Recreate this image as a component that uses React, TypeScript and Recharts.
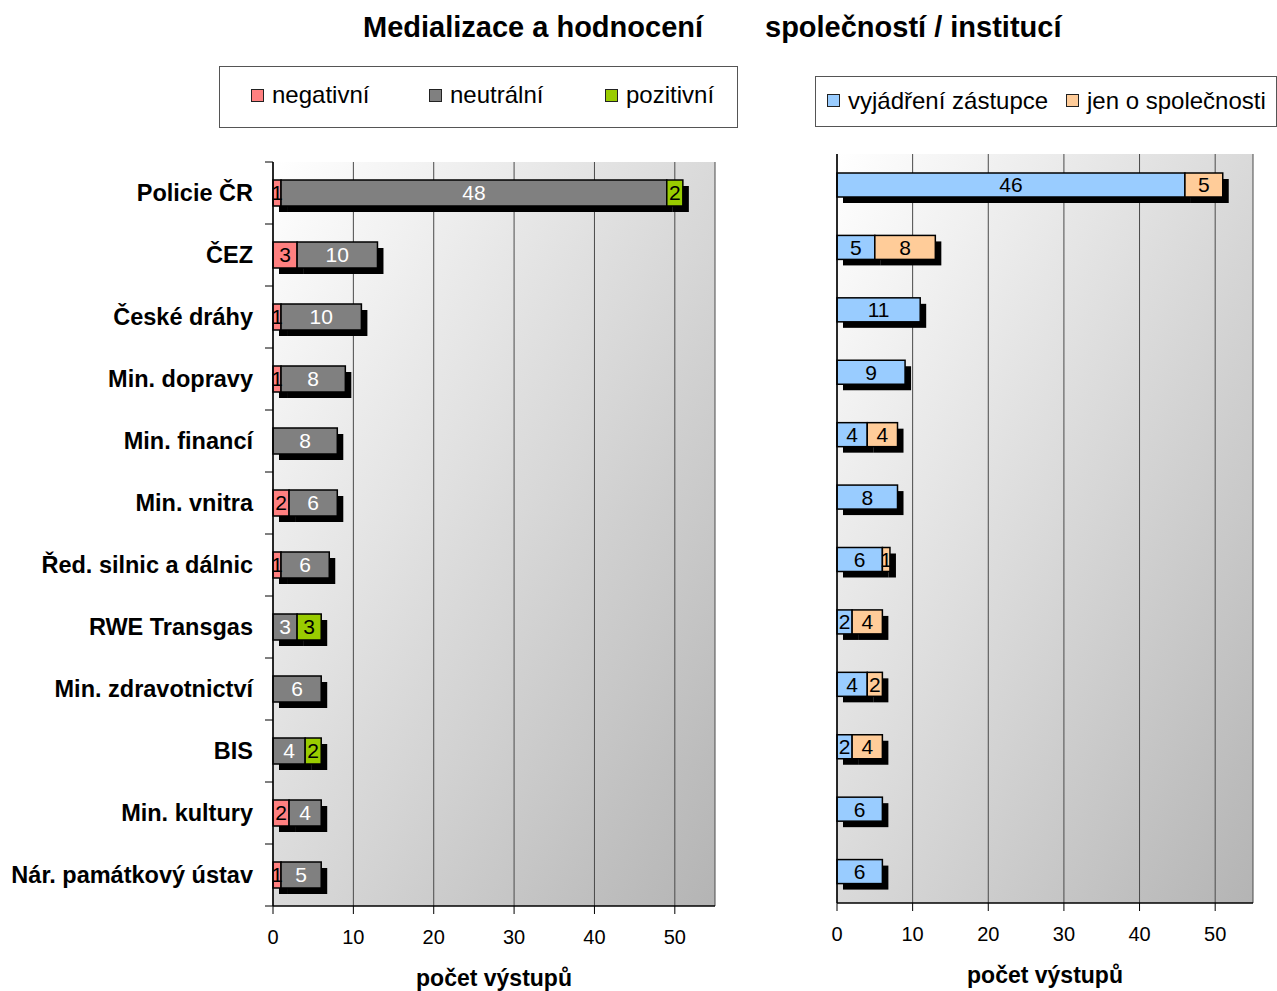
import React from "react";
import { Bar, BarChart, CartesianGrid, LabelList, XAxis, YAxis } from "recharts";

const categories = [
  "Policie ČR",
  "ČEZ",
  "České dráhy",
  "Min. dopravy",
  "Min. financí",
  "Min. vnitra",
  "Řed. silnic a dálnic",
  "RWE Transgas",
  "Min. zdravotnictví",
  "BIS",
  "Min. kultury",
  "Nár. památkový ústav",
];
const negativni = [1, 3, 1, 1, 0, 2, 1, 0, 0, 0, 2, 1];
const neutralni = [48, 10, 10, 8, 8, 6, 6, 3, 6, 4, 4, 5];
const pozitivni = [2, 0, 0, 0, 0, 0, 0, 3, 0, 2, 0, 0];
const vyjadreniZastupce = [46, 5, 11, 9, 4, 8, 6, 2, 4, 2, 6, 6];
const jenOSpolecnosti = [5, 8, 0, 0, 4, 0, 1, 4, 2, 4, 0, 0];
const xTicks = [0, 10, 20, 30, 40, 50];

const FONT = "Arial, 'Liberation Sans', sans-serif";

const leftSeries = [
  { key: "negativni", name: "negativní", color: "#FF8080", text: "#000" },
  { key: "neutralni", name: "neutrální", color: "#808080", text: "#fff" },
  { key: "pozitivni", name: "pozitivní", color: "#99CC00", text: "#000" },
];
const rightSeries = [
  { key: "vyjadreni", name: "vyjádření zástupce", color: "#99CCFF", text: "#000" },
  { key: "jenO", name: "jen o společnosti", color: "#FFCC99", text: "#000" },
];

const leftData = categories.map((name, i) => ({
  name,
  negativni: negativni[i],
  neutralni: neutralni[i],
  pozitivni: pozitivni[i],
}));
const rightData = categories.map((name, i) => ({
  name,
  vyjadreni: vyjadreniZastupce[i],
  jenO: jenOSpolecnosti[i],
}));

// bar segment with a black drop shadow behind it
const ShadowBar = (props: any) => {
  const { x, y, width, height, fill } = props;
  if (!width || width <= 0) return null;
  return (
    <g>
      <rect x={x + 6} y={y + 6} width={width} height={height} fill="#000" />
      <rect x={x} y={y} width={width} height={height} fill={fill} stroke="#000" strokeWidth={1.5} />
    </g>
  );
};

const CategoryTick = (props: any) => {
  const { x, y, payload, index } = props;
  const half = payload?.offset ?? 31;
  return (
    <g>
      <line x1={x + 12} x2={x + 20} y1={y - half} y2={y - half} stroke="#000" />
      {index === categories.length - 1 && (
        <line x1={x + 12} x2={x + 20} y1={y + half} y2={y + half} stroke="#000" />
      )}
      <text
        x={x}
        y={y}
        dy="0.35em"
        textAnchor="end"
        fontSize={23.5}
        fontWeight="bold"
        fontFamily={FONT}
        fill="#000"
      >
        {payload.value}
      </text>
    </g>
  );
};

const hideZero = (v: any) => (v ? v : "");

function Legend({
  items,
  style,
  itemWidths,
}: {
  items: typeof leftSeries;
  style: React.CSSProperties;
  itemWidths: number[];
}) {
  return (
    <div
      style={{
        position: "absolute",
        border: "1px solid #555",
        background: "#fff",
        boxSizing: "border-box",
        display: "flex",
        alignItems: "center",
        fontFamily: FONT,
        fontSize: 24,
        color: "#000",
        ...style,
      }}
    >
      {items.map((s, i) => (
        <div
          key={s.key}
          style={{ display: "flex", alignItems: "center", width: itemWidths[i], flex: "none", whiteSpace: "nowrap" }}
        >
          <span
            style={{
              width: 11,
              height: 11,
              background: s.color,
              border: "1.5px solid #222",
              marginRight: 8,
              display: "inline-block",
              flex: "none",
            }}
          />
          <span>{s.name}</span>
        </div>
      ))}
    </div>
  );
}

function StackedChart({
  data,
  series,
  width,
  height,
  margin,
  yWidth,
  gradId,
  showCategories,
}: {
  data: any[];
  series: typeof leftSeries;
  width: number;
  height: number;
  margin: { top: number; right: number; bottom: number; left: number };
  yWidth: number;
  gradId: string;
  showCategories: boolean;
}) {
  return (
    <BarChart layout="vertical" width={width} height={height} data={data} margin={margin} barSize={showCategories ? 26 : 24}>
      <defs>
        <linearGradient id={gradId} x1="0" y1="0" x2="1" y2="1">
          <stop offset="0%" stopColor="#ffffff" />
          <stop offset="100%" stopColor="#b4b4b4" />
        </linearGradient>
      </defs>
      <CartesianGrid horizontal={false} stroke="#4a4a4a" fill={`url(#${gradId})`} fillOpacity={1} />
      <XAxis
        type="number"
        domain={[0, 55]}
        ticks={xTicks}
        interval={0}
        tickSize={8}
        tickMargin={16}
        height={80}
        axisLine={{ stroke: "#000", strokeWidth: 1.5 }}
        tickLine={{ stroke: "#000" }}
        tick={{ fontSize: 20, fill: "#000", fontFamily: FONT }}
        label={{
          value: "počet výstupů",
          position: "insideBottom",
          offset: 0,
          fontSize: 23,
          fontWeight: "bold",
          fill: "#000",
          fontFamily: FONT,
        }}
      />
      <XAxis
        xAxisId="top"
        orientation="top"
        type="number"
        domain={[0, 55]}
        height={0}
        tick={false}
        tickLine={false}
        axisLine={{ stroke: "#808080", strokeWidth: 2 }}
      />
      <YAxis
        type="category"
        dataKey="name"
        width={yWidth}
        interval={0}
        tickSize={8}
        tickMargin={12}
        tickLine={false}
        axisLine={{ stroke: "#000", strokeWidth: 1.5 }}
        tick={showCategories ? <CategoryTick /> : false}
      />
      <YAxis
        yAxisId="border"
        orientation="right"
        type="category"
        dataKey="name"
        width={0}
        tick={false}
        tickLine={false}
        axisLine={{ stroke: "#808080", strokeWidth: 2 }}
      />
      {series.map((s) => (
        <Bar key={s.key} dataKey={s.key} name={s.name} stackId="a" fill={s.color} shape={<ShadowBar />} isAnimationActive={false}>
          <LabelList
            dataKey={s.key}
            position="center"
            formatter={hideZero}
            fill={s.text}
            fontSize={21}
            fontFamily={FONT}
          />
        </Bar>
      ))}
    </BarChart>
  );
}

export default function App() {
  return (
    <div
      style={{
        position: "absolute",
        left: 0,
        top: 0,
        width: 1277,
        height: 991,
        background: "#fff",
        overflow: "hidden",
        fontFamily: FONT,
      }}
    >
      <div style={{ position: "absolute", left: 363, top: 11, fontSize: 29, fontWeight: "bold", whiteSpace: "nowrap" }}>
        Medializace a hodnocení
      </div>
      <div style={{ position: "absolute", left: 765, top: 11, fontSize: 29, fontWeight: "bold", whiteSpace: "nowrap" }}>
        společností / institucí
      </div>

      <Legend
        items={leftSeries}
        itemWidths={[178, 176, 120]}
        style={{ left: 219, top: 66, width: 519, height: 62, paddingLeft: 31, paddingBottom: 4 }}
      />
      <Legend
        items={rightSeries}
        itemWidths={[239, 220]}
        style={{ left: 815, top: 76, width: 462, height: 51, paddingLeft: 11, paddingBottom: 2 }}
      />

      <div style={{ position: "absolute", left: 0, top: 0 }}>
        <StackedChart
          data={leftData}
          series={leftSeries}
          width={760}
          height={991}
          margin={{ top: 162, right: 45, bottom: 5, left: 0 }}
          yWidth={273}
          gradId="bgLeft"
          showCategories
        />
      </div>
      <div style={{ position: "absolute", left: 800, top: 0 }}>
        <StackedChart
          data={rightData}
          series={rightSeries}
          width={477}
          height={991}
          margin={{ top: 154, right: 24, bottom: 8, left: 0 }}
          yWidth={37}
          gradId="bgRight"
          showCategories={false}
        />
      </div>
    </div>
  );
}
